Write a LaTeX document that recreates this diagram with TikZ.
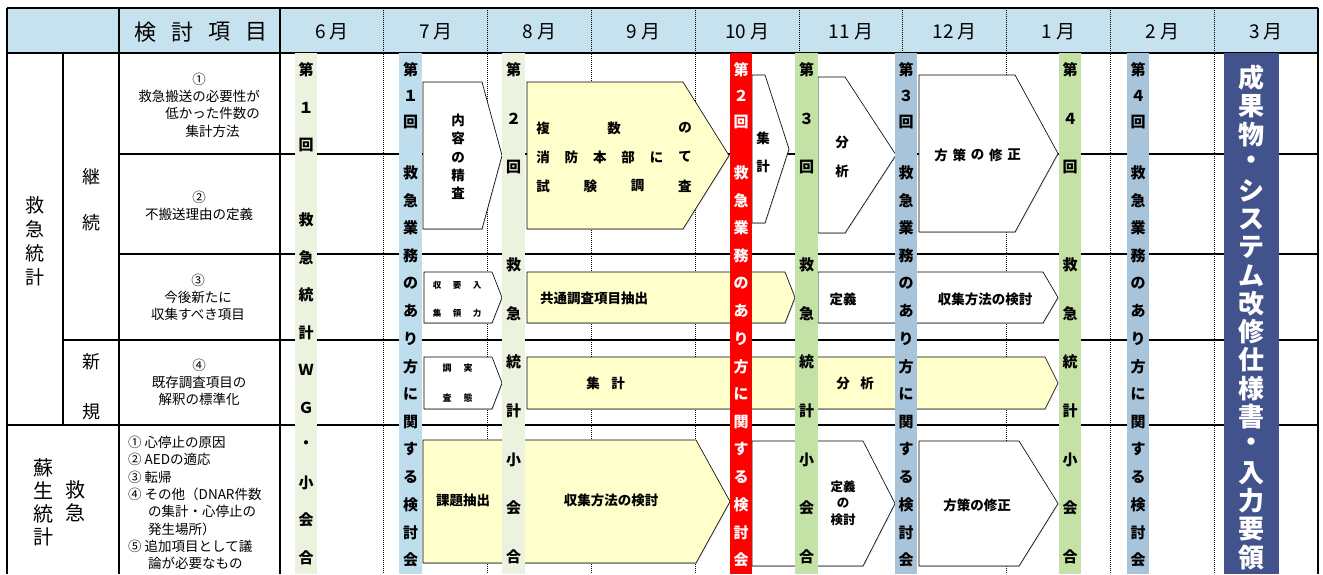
\documentclass[tikz,border=0pt]{standalone}
\usepackage{fontspec}
\setmainfont{Noto Sans CJK JP}
\usetikzlibrary{positioning,shadows}
\definecolor{headblue}{RGB}{198,226,238}
\definecolor{wgpale}{RGB}{235,243,222}
\definecolor{wggreen}{RGB}{196,226,165}
\definecolor{kaiblue}{RGB}{190,222,238}
\definecolor{kaisteel}{RGB}{168,196,218}
\definecolor{outnavy}{RGB}{66,82,140}
\definecolor{stepyellow}{RGB}{255,255,204}

\begin{document}
\begin{tikzpicture}[x=1pt, y=-1pt,
  cellline/.style={line width=1.1pt},
  monthdiv/.style={densely dotted, line width=1pt},
  stepbox/.style={draw, line width=0.6pt, fill=white,
                  drop shadow={shadow xshift=0.8pt, shadow yshift=-0.8pt, opacity=0.35}},
  yelbox/.style={stepbox, fill=stepyellow},
  hdtxt/.style={font=\fontsize{19}{19}\selectfont, inner sep=0pt},
  sidetxt/.style={font=\fontsize{19}{24}\selectfont, align=center, inner sep=0pt},
  itemtxt/.style={font=\fontsize{13.5}{17.3}\selectfont, align=center, inner sep=0pt},
  steptxt/.style={font=\fontsize{13.5}{18.3}\selectfont\bfseries, align=center, inner sep=0pt},
  tinytxt/.style={font=\fontsize{8.5}{9}\selectfont\bfseries, inner sep=0pt},
  bartxt/.style={font=\fontsize{15}{15}\selectfont\bfseries, inner sep=0pt},
  outtxt/.style={font=\fontsize{26}{26}\selectfont\bfseries, text=white, inner sep=0pt}
]
\useasboundingbox (0,0) rectangle (1323,574);

%% Header
\fill[headblue] (7,8) rectangle (1318,53);
\foreach \c [count=\i from 0] in {検,討,項,目}
  \node[hdtxt, font=\fontsize{22}{22}\selectfont] (hd\i) at (145+\i*37, 32) {\c};
\foreach \m [count=\i from 0] in {6,7,8,9,10,11,12,1,2,3}
  \node[hdtxt] (m\i) at (332+\i*103.8, 32) {\m\hspace{4pt}月};

%% Table lines
\foreach \i in {1,...,9}
  \draw[monthdiv] (280+\i*103.8, 8) -- (280+\i*103.8, 574);
\draw[cellline] (7,8) -- (1318,8);
\draw[cellline] (7,53) -- (1318,53);
\draw[cellline] (119,154) -- (1318,154);
\draw[cellline] (119,254) -- (1318,254);
\draw[cellline] (63,340) -- (1318,340);
\draw[cellline] (7,425) -- (1318,425);
\draw[cellline] (7,8) -- (7,574);
\draw[cellline] (63,53) -- (63,425);
\draw[cellline] (119,8) -- (119,574);
\draw[cellline] (280,8) -- (280,574);
\draw[cellline] (1318,8) -- (1318,574);

%% Left headings
\node[sidetxt] (kyu) at (35,241) {救\\急\\統\\計};
\node[sidetxt, font=\fontsize{18}{46}\selectfont] (keizoku) at (91,200) {継\\続};
\node[sidetxt, font=\fontsize{18}{50}\selectfont] (shinki) at (91,387) {新\\規};
\node[sidetxt, font=\fontsize{20}{23}\selectfont] (sosei) at (43,502) {蘇\\生\\統\\計};
\node[sidetxt, font=\fontsize{20}{23}\selectfont] (kyukyu) at (75,501) {救\\急};

%% Items
\node[itemtxt] (it1) at (199,105) {①\\救急搬送の必要性が\\\hspace*{27pt}低かった件数の\\\hspace*{27pt}集計方法};
\node[itemtxt] (it2) at (199,206) {②\\不搬送理由の定義};
\node[itemtxt] (it3) at (198,297.5) {③\\今後新たに\\収集すべき項目};
\node[itemtxt] (it4) at (199,382.5) {④\\既存調査項目の\\解釈の標準化};
\node[itemtxt, align=left, anchor=west] (it5) at (128,503)
  {① 心停止の原因\\② AEDの適応\\③ 転帰\\④ その他（DNAR件数\\\hspace*{20pt}の集計・心停止の\\\hspace*{20pt}発生場所）\\⑤ 追加項目として議\\\hspace*{20pt}論が必要なもの};

%% Steps, rows 1-2
\draw[stepbox] (423,82) -- (482,82) -- (502,155.5) -- (482,229) -- (423,229) -- cycle;
\draw[yelbox] (527,82) -- (683,82) -- (729,155.5) -- (683,229) -- (527,229) -- cycle;
\draw[stepbox] (752,75) -- (765,75) -- (789,149) -- (765,223) -- (752,223) -- cycle;
\draw[stepbox] (818,77) -- (845,77) -- (896,155) -- (845,233) -- (818,233) -- cycle;
\draw[stepbox] (919,75) -- (1015,75) -- (1058,153.5) -- (1015,232) -- (919,232) -- cycle;

%% Steps, row 3
\draw[stepbox] (424,272) -- (492,272) -- (502,297.5) -- (492,323) -- (424,323) -- cycle;
\draw[yelbox] (527,272) -- (785,272) -- (795,297.5) -- (785,323) -- (527,323) -- cycle;
\draw[stepbox] (818,272) -- (1043,272) -- (1058,297.5) -- (1043,323) -- (818,323) -- cycle;

%% Steps, row 4
\draw[stepbox] (424,357) -- (492,357) -- (502,383) -- (492,409) -- (424,409) -- cycle;
\draw[yelbox] (527,357) -- (1045,357) -- (1058,383) -- (1045,409) -- (527,409) -- cycle;

%% Steps, row 5
\draw[yelbox] (423,440) -- (696,440) -- (730,501.5) -- (696,563) -- (423,563) -- cycle;
\draw[stepbox] (752,441) -- (863,441) -- (895,503.5) -- (863,566) -- (752,566) -- cycle;
\draw[stepbox] (919,441) -- (1019,441) -- (1058,503.5) -- (1019,566) -- (919,566) -- cycle;

%% Step texts
\node[steptxt] (seisa) at (458,157) {内\\容\\の\\精\\査};
\foreach \c [count=\i from 0] in {複,数,の}
  \node[steptxt] (fuku\i) at (543+\i*71, 128) {\c};
\foreach \c [count=\i from 0] in {消,防,本,部,に,て}
  \node[steptxt] (sho\i) at (543+\i*28.4, 157) {\c};
\foreach \c [count=\i from 0] in {試,験,調,査}
  \node[steptxt] (shi\i) at (543+\i*47.3, 186) {\c};
\node[steptxt, font=\fontsize{13.5}{28}\selectfont\bfseries] (shukei1) at (763,152) {集\\計};
\node[steptxt, font=\fontsize{13.5}{29}\selectfont\bfseries] (bunseki1) at (842,156.5) {分\\析};
\foreach \c [count=\i from 0] in {方,策,の,修,正}
  \node[steptxt] (hos\i) at (941+\i*18.25, 155) {\c};

\foreach \c [count=\i from 0] in {収,要,入}
  \node[tinytxt] (yo\i) at (437+\i*20, 285) {\c};
\foreach \c [count=\i from 0] in {集,領,力}
  \node[tinytxt] (ry\i) at (437+\i*20, 313) {\c};
\node[steptxt, anchor=west] (kyotsu) at (540,298) {共通調査項目抽出};
\node[steptxt] (teigi1) at (843,299) {定義};
\node[steptxt] (hoho1) at (985,299) {収集方法の検討};

\foreach \c [count=\i from 0] in {調,実}
  \node[tinytxt, font=\fontsize{9}{9}\selectfont\bfseries] (ch\i) at (447+\i*21, 368) {\c};
\foreach \c [count=\i from 0] in {査,態}
  \node[tinytxt, font=\fontsize{9}{9}\selectfont\bfseries] (sa\i) at (447+\i*21, 398) {\c};
\foreach \c [count=\i from 0] in {集,計}
  \node[steptxt] (shukei2-\i) at (593+\i*25, 383) {\c};
\foreach \c [count=\i from 0] in {分,析}
  \node[steptxt] (bunseki2-\i) at (843+\i*24, 383) {\c};

\node[steptxt] (kadai) at (463,500) {課題抽出};
\node[steptxt] (hoho2) at (611,500) {収集方法の検討};
\node[steptxt, font=\fontsize{12.5}{16.5}\selectfont\bfseries] (teigi2) at (843,503) {定義\\の\\検討};
\node[steptxt] (hosaku2) at (977,505) {方策の修正};

%% Meeting bars
\fill[wgpale] (295,53) rectangle (317,574);
\fill[kaiblue] (399,53) rectangle (422,574);
\fill[wgpale] (502,53) rectangle (525,574);
\fill[red] (730,53) rectangle (752,574);
\fill[wggreen] (795,53) rectangle (818,574);
\fill[kaisteel] (895,53) rectangle (917,574);
\fill[wggreen] (1059,53) rectangle (1081,574);
\fill[kaisteel] (1127,53) rectangle (1149,574);
\fill[outnavy] (1224,53) rectangle (1279,574);

%% Bar texts
\foreach \c [count=\i from 0] in {第,１,回,,救,急,統,計,Ｗ,Ｇ,・,小,会,合}
  \node[bartxt] (wg0-\i) at (306, 70+\i*37.5) {\c};
\foreach \bx/\bn [count=\b] in {513.5/２, 806.5/３, 1070/４} {
  \foreach \c [count=\i from 0] in {第,\bn,回,,救,急,統,計,小,会,合}
    \node[bartxt] (wg\b-\i) at (\bx, 70+\i*48.7) {\c};
}
\foreach \bx/\bn/\bc [count=\b] in {410.5/１/black, 741/２/white, 906/３/black, 1138/４/black} {
  \foreach \c [count=\i from 0] in {第,\bn,回}
    \node[bartxt, text=\bc] (k\b-a\i) at (\bx, 70+\i*26) {\c};
  \foreach \c [count=\i from 0] in {救,急,業,務,の,あ,り,方,に,関,す,る,検,討,会}
    \node[bartxt, text=\bc] (k\b-b\i) at (\bx, 173+\i*27.64) {\c};
}
\foreach \c [count=\i from 0] in {成,果,物,・,シ,ス,テ,ム,改,修,仕,様,書,・,入,力,要,領}
  \node[outtxt] (out\i) at (1251.5, 78+\i*28.2) {\c};

\end{tikzpicture}
\end{document}
